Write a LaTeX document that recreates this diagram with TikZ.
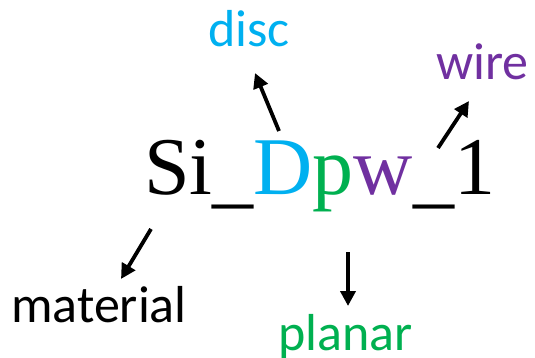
\documentclass[tikz,border=0pt]{standalone}
\usepackage{fontspec}
\setmainfont{Liberation Serif}
\newfontfamily\labfont{Carlito}
\usetikzlibrary{arrows.meta}
\definecolor{cblue}{HTML}{00B0F0}
\definecolor{cgreen}{HTML}{00B050}
\definecolor{cpurple}{HTML}{7030A0}
\newcommand{\usc}{\raisebox{-4pt}{\char"5F}}
\tikzset{
  mainlbl/.style={inner sep=0pt, anchor=base west, font=\fontsize{82}{90}\selectfont},
  lbl/.style={inner sep=0pt, anchor=base west, font=\labfont\fontsize{52}{60}\selectfont},
  arr/.style={line width=3.8pt, -{Triangle[length=15pt,width=15pt]}}
}
\begin{document}
\begin{tikzpicture}[x=1pt,y=-1pt]
\useasboundingbox (0,0) rectangle (535,358);
\node[mainlbl] (code) at (144,195) {Si\usc\textcolor{cblue}{D}\textcolor{cgreen}{p}\textcolor{cpurple}{w}\usc 1};
\node[lbl, text=cblue] (disc) at (208,47) {disc};
\node[lbl, text=cpurple] (wire) at (436,80) {wire};
\node[lbl] (material) at (11,322) {material};
\node[lbl, text=cgreen] (planar) at (278,350) {planar};
\coordinate (tD) at (279,131);
\coordinate (hD) at (255,73);
\coordinate (tW) at (438,148);
\coordinate (hW) at (469,101);
\coordinate (tM) at (151,229);
\coordinate (hM) at (121,279);
\coordinate (tP) at (348,252);
\coordinate (hP) at (348,306);
\draw[arr] (tD) -- (hD);
\draw[arr] (tW) -- (hW);
\draw[arr] (tM) -- (hM);
\draw[arr] (tP) -- (hP);
\end{tikzpicture}
\end{document}
